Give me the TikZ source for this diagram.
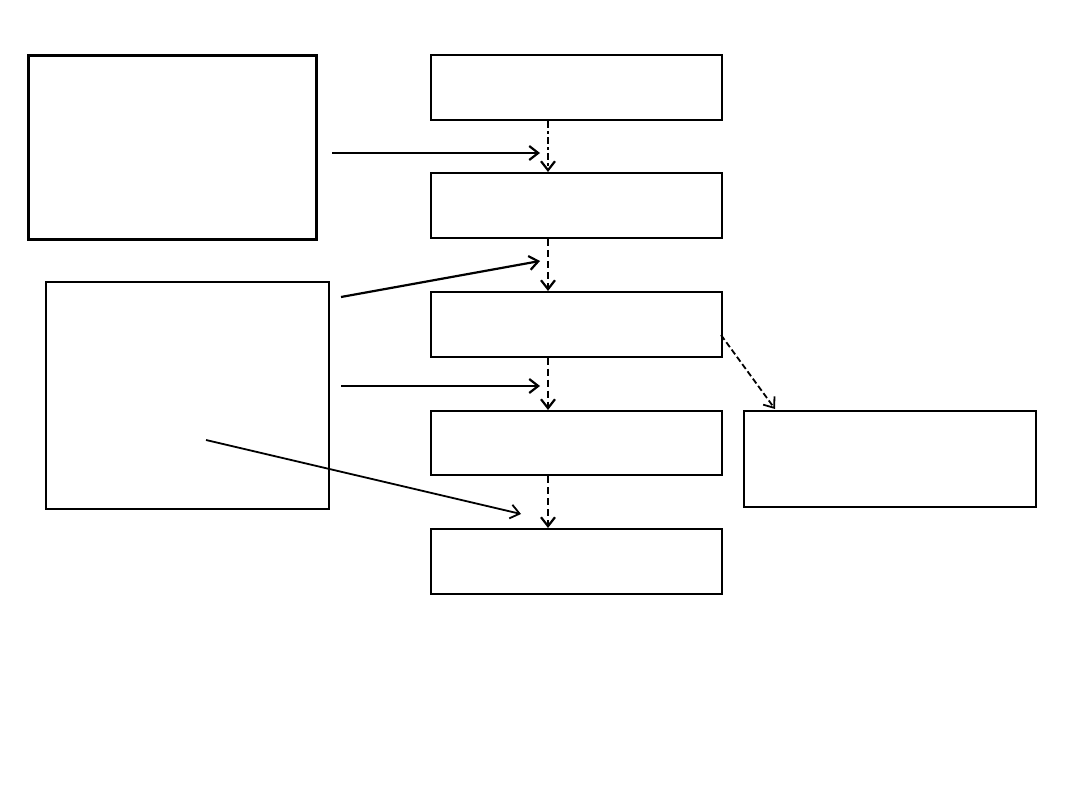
\documentclass[tikz,border=0pt]{standalone}
\usetikzlibrary{arrows.meta}
\tikzset{
  box/.style={draw, line width=2pt, inner sep=0pt, anchor=north west},
  arr/.style={line width=2.2pt, -{Straight Barb[length=9pt,width=14pt]}},
  darr/.style={arr, dashed, dash pattern=on 7pt off 4pt},
}
\begin{document}
\begin{tikzpicture}[x=1pt,y=-1pt]
\useasboundingbox (0,0) rectangle (1080,810);
\node[box, line width=2.6pt, minimum width=288pt, minimum height=184pt] (A) at (27,54) {};
\node[box, line width=1.6pt, minimum width=283pt, minimum height=227pt] (B) at (45,281) {};
\node[box, minimum width=291pt, minimum height=65pt] (c1) at (430,54) {};
\node[box, minimum width=291pt, minimum height=65pt] (c2) at (430,172) {};
\node[box, line width=1.6pt, minimum width=291pt, minimum height=65pt] (c3) at (430,291) {};
\node[box, minimum width=291pt, minimum height=64pt] (c4) at (430,410) {};
\node[box, minimum width=291pt, minimum height=65pt] (c5) at (430,528) {};
\node[box, minimum width=292pt, minimum height=96pt] (D) at (743,410) {};
% spine arrows
\draw[darr, dash pattern=on 7pt off 3pt on 3pt off 3pt] (c1.south -| 548,0) -- (c2.north -| 548,0);
\draw[darr] (c2.south -| 548,0) -- (c3.north -| 548,0);
\draw[darr] (c3.south -| 548,0) -- (c4.north -| 548,0);
\draw[darr] (c4.south -| 548,0) -- (c5.north -| 548,0);
% side arrows
\coordinate (s1) at (332,153); \coordinate (e1) at (540,153);
\coordinate (s2) at (341,297); \coordinate (e2) at (540,261);
\coordinate (s3) at (341,386); \coordinate (e3) at (540,386);
\coordinate (s4) at (206,440); \coordinate (e4) at (521,514);
\draw[arr] (s1) -- (e1);
\draw[arr] (s2) -- (e2);
\draw[arr] (s3) -- (e3);
\draw[arr, line width=1.8pt] (s4) -- (e4);
\coordinate (d0) at (721,335); \coordinate (d1) at (775,409);
\draw[darr, line width=1.8pt, dash pattern=on 6pt off 3pt] (d0) -- (d1);
\end{tikzpicture}
\end{document}
